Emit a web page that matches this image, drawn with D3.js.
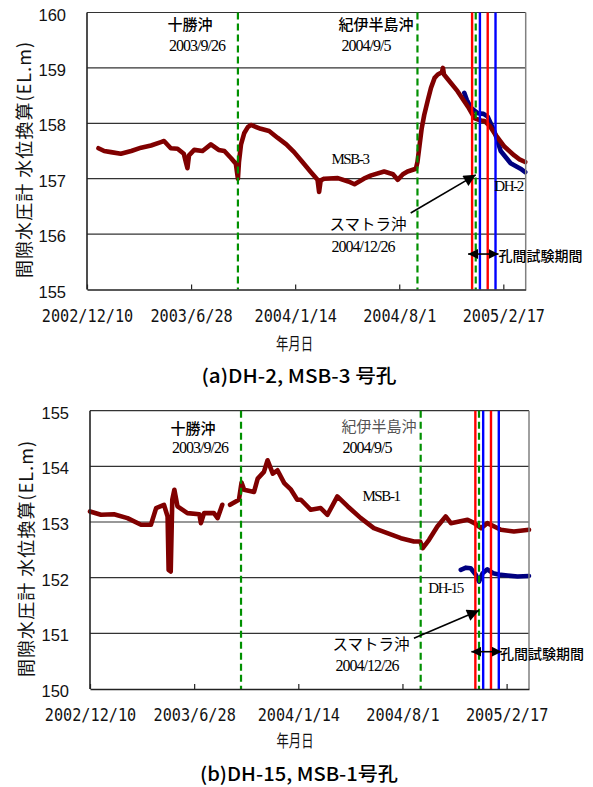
<!DOCTYPE html>
<html>
<head>
<meta charset="utf-8">
<script src="https://cdn.jsdelivr.net/npm/d3@7"></script>
<style>
  body { margin: 0; background: #fff; }
  svg { display: block; }
</style>
</head>
<body>
<svg id="fig" width="593" height="787"></svg>
<script>
// ---------- data ----------
const xDomain = ["2002-12-10", "2005-04-01"];
const xTickDates = ["2002-12-10", "2003-06-28", "2004-01-14", "2004-08-01", "2005-02-17"];
const xTickLabels = ["2002/12/10", "2003/6/28", "2004/1/14", "2004/8/1", "2005/2/17"];

const quakeDates = ["2003-09-26", "2004-09-05", "2004-12-26"];
const quakeNames = ["十勝沖", "紀伊半島沖", "スマトラ沖"];
const quakeLabels = ["2003/9/26", "2004/9/5", "2004/12/26"];

// cross-hole test period markers
const testRedDates = ["2004-12-19", "2005-01-18"];
const testBlueDates = ["2005-01-03", "2005-02-02"];
const testLabel = "孔間試験期間";

const yTicksA = [155, 156, 157, 158, 159, 160];
const yTicksB = [150, 151, 152, 153, 154, 155];

// (a) MSB-3 borehole, water level (EL.m)
const msb3 = [
  ["2003-01-01",157.55],["2003-01-12",157.50],["2003-01-25",157.48],["2003-02-13",157.45],
  ["2003-03-05",157.50],["2003-03-24",157.56],["2003-04-12",157.60],["2003-05-01",157.66],
  ["2003-05-07",157.68],["2003-05-20",157.55],["2003-06-02",157.54],["2003-06-14",157.45],
  ["2003-06-18",157.30],["2003-06-21",157.19],["2003-06-24",157.42],["2003-07-04",157.52],
  ["2003-07-20",157.50],["2003-08-05",157.62],["2003-08-20",157.52],["2003-08-31",157.50],
  ["2003-09-13",157.37],["2003-09-22",157.27],["2003-09-26",157.00],["2003-09-28",157.30],
  ["2003-10-02",157.62],["2003-10-08",157.82],["2003-10-15",157.93],["2003-10-21",157.97],
  ["2003-11-09",157.90],["2003-11-25",157.86],["2003-12-11",157.74],["2003-12-28",157.62],
  ["2004-01-12",157.48],["2004-01-28",157.30],["2004-02-13",157.12],["2004-02-26",156.98],
  ["2004-02-29",156.76],["2004-03-03",156.97],["2004-03-10",157.00],["2004-04-05",157.01],
  ["2004-04-25",156.95],["2004-05-07",156.90],["2004-05-25",157.00],["2004-06-08",157.06],
  ["2004-07-03",157.13],["2004-07-20",157.08],["2004-07-29",156.98],["2004-08-08",157.08],
  ["2004-08-17",157.13],["2004-09-02",157.18],["2004-09-05",157.30],["2004-09-09",157.60],
  ["2004-09-13",157.90],["2004-09-18",158.15],["2004-09-25",158.42],["2004-10-01",158.64],
  ["2004-10-08",158.82],["2004-10-14",158.88],["2004-10-22",158.92],["2004-10-24",159.00],
  ["2004-10-26",158.88],["2004-11-02",158.80],["2004-11-21",158.58],["2004-12-11",158.30],
  ["2004-12-24",158.09],["2005-01-05",158.05],["2005-01-12",158.04],["2005-01-22",157.95],
  ["2005-01-31",157.82],["2005-02-19",157.58],["2005-03-10",157.42],["2005-03-20",157.35],
  ["2005-03-29",157.31],["2005-03-31",157.30]
];

// (a) DH-2 borehole
const dh2 = [
  ["2004-12-04",158.55],["2004-12-09",158.42],["2004-12-17",158.28],["2004-12-30",158.18],
  ["2005-01-10",158.17],["2005-01-18",158.12],["2005-01-31",157.85],["2005-02-12",157.50],
  ["2005-03-03",157.28],["2005-03-22",157.18],["2005-03-31",157.12]
];

// (b) MSB-1 borehole (null = missing record)
const msb1 = [
  ["2002-12-10",153.19],["2002-12-31",153.13],["2003-01-25",153.14],["2003-02-20",153.07],
  ["2003-03-18",152.95],["2003-04-06",152.95],["2003-04-16",153.25],["2003-05-01",153.31],
  ["2003-05-08",153.10],["2003-05-10",152.14],["2003-05-14",152.11],["2003-05-17",153.40],
  ["2003-05-21",153.58],["2003-05-27",153.28],["2003-06-15",153.16],["2003-07-08",153.14],
  ["2003-07-11",152.98],["2003-07-17",153.16],["2003-08-05",153.16],["2003-08-12",153.07],
  ["2003-08-21",153.31],["2003-08-28",null],["2003-09-05",153.31],["2003-09-22",153.40],
  ["2003-09-27",153.71],["2003-10-02",153.58],["2003-10-21",153.54],["2003-10-28",153.78],
  ["2003-11-09",153.90],["2003-11-16",154.11],["2003-11-26",153.87],["2003-12-05",153.93],
  ["2003-12-18",153.70],["2003-12-31",153.58],["2004-01-12",153.40],["2004-01-19",153.40],
  ["2004-02-07",153.22],["2004-02-26",153.25],["2004-03-10",153.13],["2004-03-29",153.46],
  ["2004-04-18",153.28],["2004-05-13",153.07],["2004-06-07",152.89],["2004-07-03",152.80],
  ["2004-07-29",152.71],["2004-08-23",152.65],["2004-09-04",152.65],["2004-09-09",152.53],
  ["2004-09-21",152.68],["2004-10-07",152.92],["2004-10-23",153.10],["2004-11-02",152.98],
  ["2004-12-04",153.04],["2004-12-17",152.98],["2004-12-30",152.89],["2005-01-11",152.98],
  ["2005-02-06",152.86],["2005-03-03",152.83],["2005-04-01",152.86]
];

// (b) DH-15 borehole
const dh15 = [
  ["2004-11-21",152.14],["2004-12-01",152.18],["2004-12-10",152.17],["2004-12-20",152.05],
  ["2004-12-26",151.93],["2005-01-02",152.08],["2005-01-11",152.15],["2005-01-22",152.08],
  ["2005-02-06",152.05],["2005-03-10",152.02],["2005-04-01",152.03]
];

// ---------- drawing ----------
const parse = d3.utcParse("%Y-%m-%d");
const svg = d3.select("#fig");

const CJK = "'Noto Sans CJK JP', sans-serif";
const SERIF = "'Liberation Serif', 'Times New Roman', serif";
const MONO = "'DejaVu Sans Mono', monospace";
const SANS = "'Liberation Sans', Arial, sans-serif";
const MAROON = "#800000";
const NAVY = "#000080";

const defs = svg.append("defs");
defs.append("marker")
  .attr("id", "headBig").attr("viewBox", "0 0 10 10")
  .attr("refX", 10).attr("refY", 5)
  .attr("markerUnits", "userSpaceOnUse")
  .attr("markerWidth", 15).attr("markerHeight", 12)
  .attr("orient", "auto")
  .append("path").attr("d", "M0,0L10,5L0,10Z").attr("fill", "#000");
defs.append("marker")
  .attr("id", "headSmall").attr("viewBox", "0 0 10 10")
  .attr("refX", 10).attr("refY", 5)
  .attr("markerUnits", "userSpaceOnUse")
  .attr("markerWidth", 10).attr("markerHeight", 10)
  .attr("orient", "auto-start-reverse")
  .append("path").attr("d", "M0,0L10,5L0,10Z").attr("fill", "#000");

function drawPanel(cfg) {
  const g = svg.append("g");
  const x = d3.scaleUtc().domain(xDomain.map(parse)).range([cfg.left, cfg.right]);
  const y = d3.scaleLinear().domain(cfg.yDomain).range([cfg.bottom, cfg.top]);

  // horizontal gridlines (incl. top frame)
  g.selectAll("line.grid").data(cfg.yTicks.slice(1)).join("line")
    .attr("x1", cfg.left).attr("x2", cfg.right)
    .attr("y1", d => y(d)).attr("y2", d => y(d))
    .attr("stroke", "#333").attr("stroke-width", 1.2);

  // data curves
  const line = d3.line()
    .defined(d => d[1] != null)
    .x(d => x(parse(d[0])))
    .y(d => y(d[1]));
  cfg.series.forEach(s => {
    g.append("path")
      .attr("d", line(s.data))
      .attr("fill", "none")
      .attr("stroke", s.color)
      .attr("stroke-width", 4.6)
      .attr("stroke-linejoin", "round")
      .attr("stroke-linecap", "round");
  });

  // earthquake markers
  g.selectAll("line.quake").data(quakeDates).join("line")
    .attr("x1", d => x(parse(d))).attr("x2", d => x(parse(d)))
    .attr("y1", cfg.top).attr("y2", cfg.bottom)
    .attr("stroke", "#009000").attr("stroke-width", 2.2)
    .attr("stroke-dasharray", "7,4");

  // test-period markers
  g.selectAll("line.red").data(testRedDates).join("line")
    .attr("x1", d => x(parse(d))).attr("x2", d => x(parse(d)))
    .attr("y1", cfg.top).attr("y2", cfg.bottom)
    .attr("stroke", "#ff0000").attr("stroke-width", 2.4);
  g.selectAll("line.blue").data(testBlueDates).join("line")
    .attr("x1", d => x(parse(d))).attr("x2", d => x(parse(d)))
    .attr("y1", cfg.top).attr("y2", cfg.bottom)
    .attr("stroke", "#0000ff").attr("stroke-width", 2.4);

  // frame
  g.append("line").attr("x1", cfg.right).attr("x2", cfg.right)
    .attr("y1", cfg.top).attr("y2", cfg.bottom)
    .attr("stroke", "#808080").attr("stroke-width", 1.5);
  g.append("line").attr("x1", cfg.left).attr("x2", cfg.left)
    .attr("y1", cfg.top).attr("y2", cfg.bottom)
    .attr("stroke", "#222").attr("stroke-width", 1.6);

  // x axis
  const ax = d3.axisBottom(x)
    .tickValues(xTickDates.map(parse))
    .tickFormat((d, i) => xTickLabels[i])
    .tickSizeInner(-5).tickSizeOuter(0);
  const axG = g.append("g").attr("transform", `translate(0,${cfg.bottom})`).call(ax);
  axG.select(".domain").attr("stroke", "#222").attr("stroke-width", 1.6);
  axG.selectAll(".tick line").attr("stroke", "#222").attr("stroke-width", 1.2);
  axG.selectAll(".tick text")
    .attr("y", cfg.xLabelY - cfg.bottom).attr("dy", "0.36em")
    .attr("font-family", MONO).attr("font-size", 17).attr("fill", "#111")
    .attr("textLength", (d, i) => xTickLabels[i].length * 9.15)
    .attr("lengthAdjust", "spacingAndGlyphs");

  // y tick labels
  g.selectAll("text.ytick").data(cfg.yTicks).join("text")
    .attr("x", cfg.left - 21).attr("y", d => y(d) + 2)
    .attr("text-anchor", "end").attr("dominant-baseline", "central")
    .attr("font-family", SANS).attr("font-size", 16.5).attr("fill", "#111")
    .text(d => d);

  // axis titles
  g.append("text")
    .attr("transform", `translate(${cfg.yTitle[0]},${cfg.yTitle[1]}) rotate(-90)`)
    .attr("text-anchor", "middle").attr("dominant-baseline", "central")
    .attr("font-family", CJK).attr("font-size", 18).attr("fill", "#111")
    .attr("textLength", 236).attr("lengthAdjust", "spacing")
    .text("間隙水圧計 水位換算(EL.m)");
  g.append("text")
    .attr("x", cfg.xTitle[0]).attr("y", cfg.xTitle[1])
    .attr("text-anchor", "middle").attr("dominant-baseline", "central")
    .attr("font-family", CJK).attr("font-size", 17).attr("fill", "#111")
    .attr("textLength", 37).attr("lengthAdjust", "spacingAndGlyphs")
    .text("年月日");
  g.append("text")
    .attr("x", cfg.caption[0]).attr("y", cfg.caption[1])
    .attr("text-anchor", "middle").attr("dominant-baseline", "central")
    .attr("font-family", CJK).attr("font-size", 19).attr("font-weight", 500).attr("fill", "#000")
    .attr("textLength", cfg.captionLen).attr("lengthAdjust", "spacingAndGlyphs")
    .text(cfg.captionText);

  // earthquake names and dates (first two above the plot)
  [0, 1].forEach(i => {
    g.append("text")
      .attr("x", cfg.quakeNamePos[i][0]).attr("y", cfg.quakeNamePos[i][1])
      .attr("text-anchor", "middle").attr("dominant-baseline", "central")
      .attr("font-family", CJK).attr("font-size", 15)
      .attr("font-weight", i === 0 ? 500 : (cfg.kiiColor === "#000" ? 500 : 400))
      .attr("fill", i === 0 ? "#000" : cfg.kiiColor)
      .text(quakeNames[i]);
    g.append("text")
      .attr("x", cfg.quakeDatePos[i][0]).attr("y", cfg.quakeDatePos[i][1])
      .attr("text-anchor", "middle").attr("dominant-baseline", "central")
      .attr("font-family", SERIF).attr("font-size", 16).attr("letter-spacing", -1)
      .attr("fill", "#000")
      .text(quakeLabels[i]);
  });

  // Sumatra label with arrow pointing at its marker
  g.append("text")
    .attr("x", cfg.sumatraName[0]).attr("y", cfg.sumatraName[1])
    .attr("text-anchor", "middle").attr("dominant-baseline", "central")
    .attr("font-family", CJK).attr("font-size", 15.5).attr("fill", "#000")
    .text(quakeNames[2]);
  g.append("text")
    .attr("x", cfg.sumatraDate[0]).attr("y", cfg.sumatraDate[1])
    .attr("text-anchor", "middle").attr("dominant-baseline", "central")
    .attr("font-family", SERIF).attr("font-size", 16).attr("letter-spacing", -1)
    .attr("fill", "#000")
    .text(quakeLabels[2]);
  g.append("line")
    .attr("x1", x(parse(cfg.arrowTail[0]))).attr("y1", y(cfg.arrowTail[1]))
    .attr("x2", x(parse(quakeDates[2]))).attr("y2", y(cfg.arrowTipValue))
    .attr("stroke", "#000").attr("stroke-width", 1.6)
    .attr("marker-end", "url(#headBig)");

  // test period double arrow
  const ay = y(cfg.testArrowValue);
  g.append("line")
    .attr("x1", x(parse(testRedDates[0])) - 4).attr("x2", x(parse(testBlueDates[1])) + 3)
    .attr("y1", ay).attr("y2", ay)
    .attr("stroke", "#000").attr("stroke-width", 1.6)
    .attr("marker-start", "url(#headSmall)")
    .attr("marker-end", "url(#headSmall)");
  g.append("text")
    .attr("x", cfg.testText[0]).attr("y", cfg.testText[1])
    .attr("dominant-baseline", "central")
    .attr("font-family", CJK).attr("font-size", 14).attr("font-weight", 500).attr("fill", "#000")
    .text(testLabel);

  // series labels
  cfg.seriesLabels.forEach(s => {
    g.append("text")
      .attr("x", s.pos[0]).attr("y", s.pos[1])
      .attr("text-anchor", s.anchor).attr("dominant-baseline", "central")
      .attr("font-family", SERIF).attr("font-size", 15).attr("letter-spacing", -1.4)
      .attr("fill", "#000")
      .text(s.text);
  });
}

drawPanel({
  left: 87, right: 525.7, top: 12.5, bottom: 289.5,
  yDomain: [155, 160], yTicks: yTicksA,
  series: [{ data: dh2, color: NAVY }, { data: msb3, color: MAROON }],
  xLabelY: 316, yTitle: [23, 160], xTitle: [294.5, 342],
  caption: [299, 374], captionLen: 195, captionText: "(a)DH-2, MSB-3 号孔",
  quakeNamePos: [[190, 23], [376, 23]], quakeDatePos: [[197, 45], [366, 45]],
  kiiColor: "#000",
  sumatraName: [368, 223], sumatraDate: [363, 246],
  arrowTail: ["2004-08-23", 156.38], arrowTipValue: 157.07,
  testArrowValue: 155.64, testText: [498.5, 255],
  seriesLabels: [
    { text: "MSB-3", pos: [350, 159], anchor: "middle" },
    { text: "DH-2", pos: [494.3, 185.5], anchor: "start" }
  ]
});

drawPanel({
  left: 90, right: 529, top: 410.7, bottom: 689,
  yDomain: [150, 155], yTicks: yTicksB,
  series: [{ data: msb1, color: MAROON }, { data: dh15, color: NAVY }],
  xLabelY: 715, yTitle: [25, 559], xTitle: [295, 739],
  caption: [299, 772], captionLen: 198, captionText: "(b)DH-15, MSB-1号孔",
  quakeNamePos: [[193, 427], [379, 425]], quakeDatePos: [[200, 447], [367, 447]],
  kiiColor: "#555",
  sumatraName: [371, 643], sumatraDate: [367, 665],
  arrowTail: ["2004-08-23", 150.91], arrowTipValue: 151.41,
  testArrowValue: 150.67, testText: [500, 653],
  seriesLabels: [
    { text: "MSB-1", pos: [381, 496], anchor: "middle" },
    { text: "DH-15", pos: [428.3, 588], anchor: "start" }
  ]
});
</script>
</body>
</html>
